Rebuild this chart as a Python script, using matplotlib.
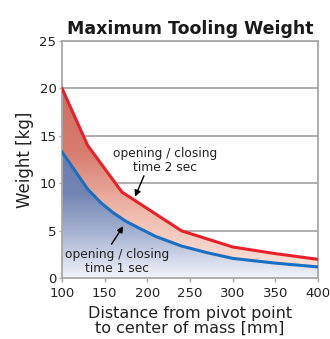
import matplotlib.pyplot as plt
import numpy as np
from matplotlib.colors import LinearSegmentedColormap

# values
dist_2s = [100, 130, 170, 240, 300, 350, 400]
weight_2s = [20.0, 14.0, 9.1, 5.0, 3.3, 2.6, 2.0]
dist_1s = [100, 130, 145, 160, 175, 190, 210, 240, 270, 300, 350, 400]
weight_1s = [13.3, 9.4, 8.0, 6.9, 6.0, 5.3, 4.4, 3.4, 2.7, 2.1, 1.6, 1.2]

x_ticks = [100, 150, 200, 250, 300, 350, 400]
y_ticks = [0, 5, 10, 15, 20, 25]

plt.rcParams['font.family'] = ['DejaVu Sans']

fig = plt.figure(figsize=(3.3, 3.39), dpi=100)
ax = fig.add_axes([0.188, 0.179, 0.776, 0.70])

xs = np.linspace(100, 400, 601)
red_i = np.interp(xs, dist_2s, weight_2s)
blue_i = np.interp(xs, dist_1s, weight_1s)

# blue gradient under the 1 sec line
blue_cmap = LinearSegmentedColormap.from_list('b', ['#f3f4fa', '#aab6d4', '#7385b4', '#6a7dae'])
poly_b = ax.fill_between(xs, 0, blue_i, color='none', lw=0)
grad = np.linspace(0, 1, 256).reshape(-1, 1)
im = ax.imshow(grad, cmap=blue_cmap, aspect='auto', origin='lower',
               extent=[100, 400, 0, 13.3], zorder=1)
im.set_clip_path(poly_b.get_paths()[0], transform=ax.transData)

# red gradient between the two lines
red_cmap = LinearSegmentedColormap.from_list('r', ['#fbe9e3', '#f0bcae', '#d67c6e', '#cf7060'])
poly_r = ax.fill_between(xs, blue_i, red_i, color='none', lw=0)
im2 = ax.imshow(grad, cmap=red_cmap, aspect='auto', origin='lower',
                extent=[100, 400, 0, 20], zorder=1)
im2.set_clip_path(poly_r.get_paths()[0], transform=ax.transData)

ax.plot(dist_2s, weight_2s, color='#e8202a', lw=2.2, zorder=3)
ax.plot(dist_1s, weight_1s, color='#1a6fc0', lw=2.2, zorder=3)

ax.set_xlim(100, 400)
ax.set_ylim(0, 25)
ax.set_xticks(x_ticks)
ax.set_yticks(y_ticks)
ax.grid(axis='y', color='#a8a8a8', lw=1.3, zorder=0)
ax.set_axisbelow(True)
for s in ax.spines.values():
    s.set_color('#a8a8a8')
    s.set_linewidth(1.3)
ax.tick_params(colors='#a8a8a8', labelcolor='#222222', labelsize=9.5, length=3, width=1)
ax.tick_params(axis='y', length=2, pad=2)

ax.set_title('Maximum Tooling Weight', fontsize=12.5, fontweight='bold', pad=5, color='#1a1a1a')
ax.set_xlabel('Distance from pivot point\nto center of mass [mm]', fontsize=11.5, color='#222222',
              labelpad=4, linespacing=0.95)
ax.set_ylabel('Weight [kg]', fontsize=12, color='#222222', labelpad=4)

ax.text(221, 12.4, 'opening / closing\ntime 2 sec', ha='center', va='center',
        fontsize=8.8, color='#222222', linespacing=1.15, zorder=5)
ax.text(164, 1.75, 'opening / closing\ntime 1 sec', ha='center', va='center',
        fontsize=8.8, color='#222222', linespacing=1.15, zorder=5)
ax.annotate('', xy=(185.5, 8.6), xytext=(196, 10.8),
            arrowprops=dict(arrowstyle='-|>', color='black', lw=1, mutation_scale=9,
                            shrinkA=0, shrinkB=0), zorder=5)
ax.annotate('', xy=(171.7, 5.5), xytext=(158, 3.6),
            arrowprops=dict(arrowstyle='-|>', color='black', lw=1, mutation_scale=9,
                            shrinkA=0, shrinkB=0), zorder=5)

fig.savefig('out.png', dpi=100)
